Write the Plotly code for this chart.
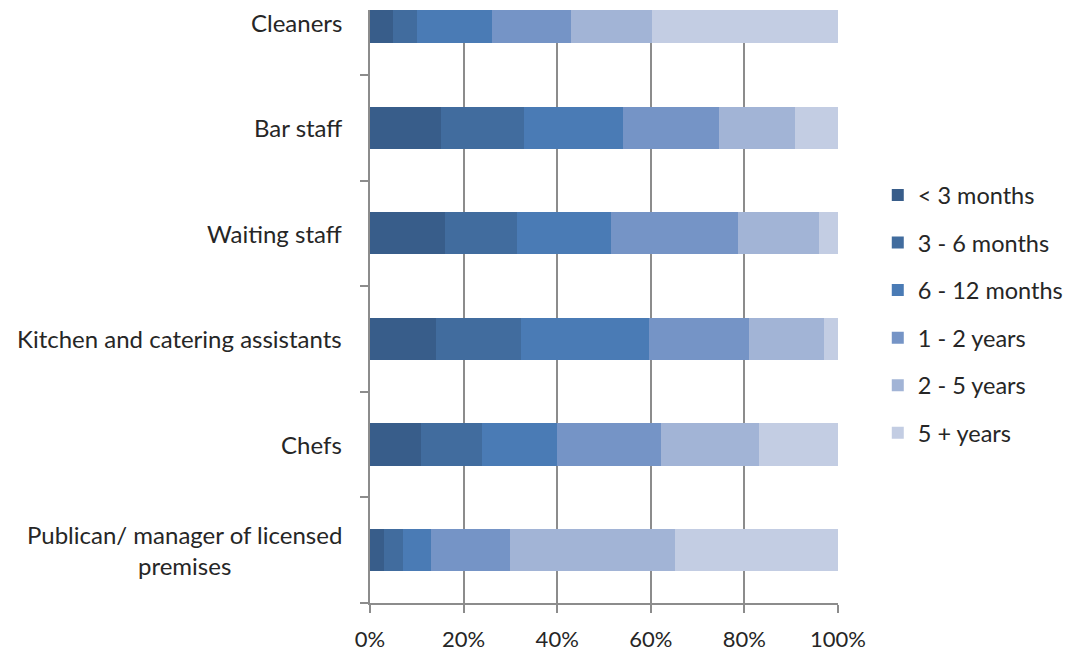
import plotly.graph_objects as go

# Job roles, bottom to top on the chart
roles = [
    "Publican/ manager of licensed<br>premises",
    "Chefs",
    "Kitchen and catering assistants",
    "Waiting staff",
    "Bar staff",
    "Cleaners",
]

# Length of service bands (legend order)
bands = ["< 3 months", "3 - 6 months", "6 - 12 months", "1 - 2 years", "2 - 5 years", "5 + years"]

# Share of staff (%) per band, one list per band, in the same order as roles
lt_3m = [3.0, 10.9, 14.1, 16.0, 15.2, 4.9]
m3_6 = [4.1, 13.0, 18.1, 15.4, 17.6, 5.2]
m6_12 = [5.9, 16.0, 27.4, 20.2, 21.3, 15.9]
y1_2 = [17.0, 22.2, 21.3, 27.1, 20.5, 17.0]
y2_5 = [35.1, 21.0, 16.2, 17.3, 16.3, 17.2]
y5_plus = [34.9, 16.9, 2.9, 4.0, 9.1, 39.8]

series = [lt_3m, m3_6, m6_12, y1_2, y2_5, y5_plus]
colors = ["#385D8A", "#416C9E", "#4A7BB5", "#7594C6", "#A2B4D6", "#C3CDE3"]

FONT = "Lato, 'Open Sans', sans-serif"
TEXT = "#262626"
GRID = "#8C8C8C"

fig = go.Figure()
for name, vals, col in zip(bands, series, colors):
    fig.add_trace(go.Bar(
        y=roles, x=vals, name=name, orientation="h",
        marker=dict(color=col, line=dict(width=0)),
        legendgroup=name,
        hoverinfo="x+y+name",
    ))

# Role labels, centred over multiple lines
for r in roles:
    fig.add_annotation(
        x=-0.056, xref="paper", y=r, yref="y",
        text=r, showarrow=False, xanchor="right", yanchor="middle",
        align="center", font=dict(family=FONT, size=24, color=TEXT),
    )

fig.update_layout(
    width=1086, height=662,
    margin=dict(l=370, r=248, t=10, b=59),
    barmode="stack", bargap=0.6,
    plot_bgcolor="white", paper_bgcolor="white",
    font=dict(family=FONT, size=24, color=TEXT),
    showlegend=True,
    legend=dict(
        x=1.085, xanchor="left", y=0.487, yanchor="middle",
        traceorder="grouped", tracegroupgap=14,
        font=dict(family=FONT, size=23.5, color=TEXT),
        itemwidth=30, bgcolor="rgba(0,0,0,0)",
    ),
)
fig.update_xaxes(
    range=[0, 100], tickvals=[0, 20, 40, 60, 80, 100],
    ticktext=["0%", "20%", "40%", "60%", "80%", "100%"],
    showgrid=True, gridcolor=GRID, gridwidth=1.5,
    showline=True, linecolor=GRID, linewidth=1.5,
    ticks="outside", ticklen=8, tickcolor=GRID, tickwidth=1.5,
    ticklabelstandoff=8, zeroline=False,
    tickfont=dict(family=FONT, size=22, color=TEXT),
)
fig.update_yaxes(
    type="category", range=[-0.5, 5.115],
    showticklabels=False, showgrid=False,
    showline=True, linecolor=GRID, linewidth=1.5,
    ticks="outside", ticklen=8, tickcolor=GRID, tickwidth=1.5,
    tickson="boundaries",
)

fig.write_html("out.html")
